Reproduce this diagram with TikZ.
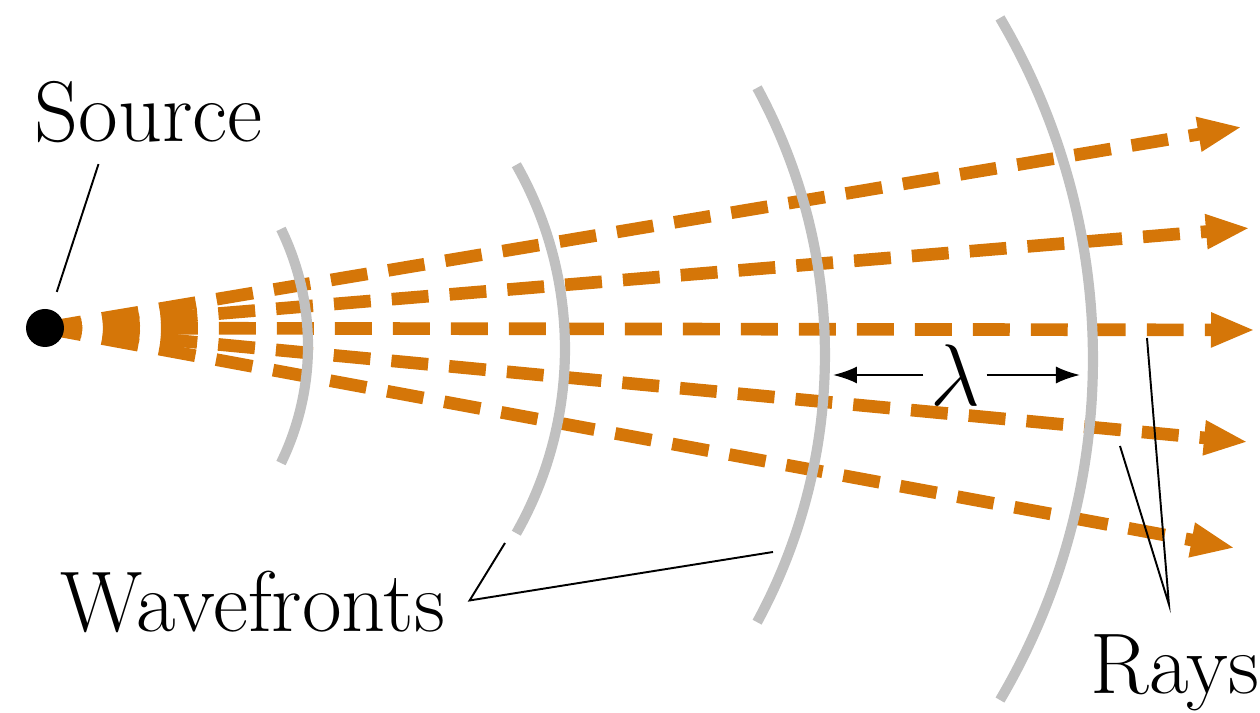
\documentclass[tikz,border=0pt]{standalone}
\usetikzlibrary{positioning,arrows.meta,calc,backgrounds}
\definecolor{rayorange}{RGB}{213,118,8}
\definecolor{wfgray}{RGB}{192,192,192}
\tikzset{
  ray/.style={rayorange,line width=3.6pt,dash pattern=on 10.5pt off 6pt,
    -{Triangle[length=4.4mm,width=3.2mm]}},
  wfront/.style={wfgray,line width=2.9pt},
  leader/.style={line width=0.55pt},
  dimarr/.style={-{Latex[length=2.4mm,width=1.7mm]},line width=0.6pt},
  srcdot/.style={circle,fill=black,minimum size=3.8mm,inner sep=0pt},
  lbl/.style={font=\fontsize{24.5}{29}\selectfont,inner sep=0pt},
}

\begin{document}
\begin{tikzpicture}
  \useasboundingbox (0,0) rectangle (12.6,7.13);
  \node[srcdot] (dot) at (0.45,3.85) {};
  \begin{scope}[on background layer]
    % rays from the source
    \foreach \x/\y [count=\i] in {12.42/5.86, 12.50/4.85, 12.55/3.83, 12.48/2.71, 12.35/1.65}{
      \coordinate (tip\i) at (\x,\y);
      \draw[ray] (dot.center) -- (tip\i);
    }
    % wavefronts
    \foreach \cx/\cy/\r/\a in {0.41/3.67/2.67/26, 1.92/3.64/3.73/29.6,
                               2.65/3.58/5.60/28.5, 4.21/3.54/6.72/30.5}{
      \draw[wfront] (\cx,\cy) ++(\a:\r) arc[start angle=\a,end angle=-\a,radius=\r];
    }
  \end{scope}

  \node[lbl,anchor=base] (srclbl) at (1.485,5.71) {Source};
  \draw[leader,shorten >=3.8mm] ($(srclbl.south)+(-0.5,-0.2)$) -- (dot.center);

  \node[lbl,anchor=base west] (wflbl) at (0.60,0.81) {Wavefronts};
  \coordinate (wfv) at ($(wflbl.east)+(0.24,0.02)$);
  \coordinate (wf2) at (5.05,1.70);
  \coordinate (wf3) at (7.73,1.61);
  \draw[leader] (wf2) -- (wfv) -- (wf3);

  \node[lbl,anchor=base west] (rayslbl) at (10.90,0.19) {Rays};
  \coordinate (rv) at ($(rayslbl.north)+(-0.06,0.3)$);
  \coordinate (rr3) at (11.47,3.75);
  \coordinate (rr4) at (11.20,2.67);
  \draw[leader] (rr3) -- (rv) -- (rr4);

  \node[lbl,inner xsep=0.06cm] (lam) at (9.55,3.38) {$\lambda$};
  \coordinate (lamL) at (8.33,3.38);
  \coordinate (lamR) at (10.80,3.38);
  \draw[dimarr] (lam.west) -- (lamL);
  \draw[dimarr] (lam.east) -- (lamR);
\end{tikzpicture}
\end{document}
